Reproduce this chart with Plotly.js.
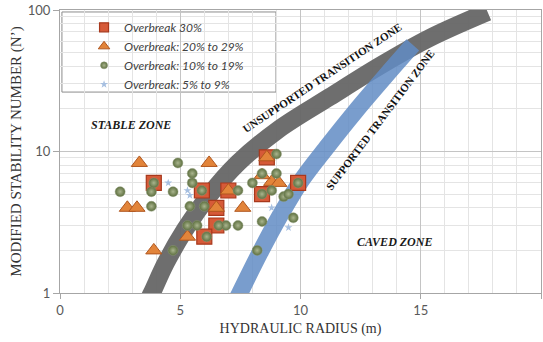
<!DOCTYPE html>
<html>
<head>
<meta charset="utf-8">
<script src="https://cdn.plot.ly/plotly-3.0.1.min.js"></script>
<style>html,body{margin:0;padding:0;background:#fff;}#chart{width:543px;height:342px;}</style>
</head>
<body>
<div id="chart"></div>
<script>
// Unsupported transition zone band (centreline)
const unsupHR = [3.57, 3.82, 4.40, 5.19, 6.15, 7.40, 9.06, 11.22, 13.29, 15.37, 17.78];
const unsupN  = [0.82, 1.00, 1.63, 2.79, 4.77, 8.29, 14.2, 24.3, 40.2, 63.4, 96.8];
// Supported transition zone band
const supHR = [7.23, 7.48, 8.31, 9.14, 10.05, 11.13, 12.26, 13.50, 14.67];
const supN  = [0.82, 1.00, 1.92, 3.50, 6.29, 10.94, 19.0, 33.6, 56.6];

// Overbreak 30%
const ob30HR = [3.9, 5.9, 7.0, 6.5, 6.5, 6.0, 8.6, 8.4, 9.9];
const ob30N  = [6.0, 5.3, 5.3, 4.0, 3.0, 2.5, 9.1, 5.0, 6.0];
// Overbreak 20% to 29%
const ob20HR = [3.3, 6.2, 2.8, 3.2, 7.6, 3.9, 5.3, 8.8, 9.1, 6.5, 7.0, 8.6, 8.4];
const ob20N  = [8.3, 8.3, 4.0, 4.0, 4.0, 2.0, 2.5, 6.1, 6.0, 4.0, 5.3, 9.1, 6.8];
// Overbreak 10% to 19%
const ob10HR = [2.5, 4.9, 5.5, 5.5, 4.7, 3.8, 3.8, 5.4, 6.0, 5.3, 5.7, 6.9, 7.4, 4.7, 6.1, 6.6, 5.9, 7.4, 8.0, 8.4, 9.0, 9.0, 8.8, 9.3, 9.5, 8.4, 9.7, 8.2, 3.9, 8.4, 9.9];
const ob10N  = [5.2, 8.3, 7.0, 6.0, 5.2, 5.2, 4.1, 4.1, 4.1, 3.0, 3.0, 3.0, 3.0, 2.0, 2.5, 3.0, 5.3, 5.3, 6.0, 7.0, 7.0, 9.6, 5.3, 4.8, 5.0, 3.2, 3.4, 2.0, 6.0, 5.0, 6.0];
// Overbreak 5% to 9%
const ob5HR = [4.5, 5.3, 5.4, 8.8, 9.5];
const ob5N  = [6.0, 5.3, 4.9, 4.0, 2.9];

const legendNames = ['Overbreak 30%', 'Overbreak: 20% to 29%', 'Overbreak: 10% to 19%', 'Overbreak: 5% to 9%'];

const sqStyle  = {symbol: 'square', color: '#d65a38', line: {color: '#a8381c', width: 1.2}};
const triStyle = {symbol: 'triangle-up', color: '#e2843a', line: {color: '#b0561e', width: 1}};
const cirStyle = {symbol: 'circle', color: '#5c6e3e', gradient: {type: 'radial', color: '#aab58e'}, line: {color: '#8e9a78', width: 0.5}};
const stStyle  = {symbol: 'star', color: '#a6bfe0', line: {width: 0}};

const traces = [
  {x: unsupHR, y: unsupN, mode: 'lines', line: {color: 'rgba(102,102,102,0.95)', width: 18, shape: 'spline', smoothing: 1}, showlegend: false, hoverinfo: 'skip'},
  {x: supHR, y: supN, mode: 'lines', line: {color: 'rgba(98,140,196,0.85)', width: 17, shape: 'spline', smoothing: 1}, showlegend: false, hoverinfo: 'skip'},
  {x: ob30HR, y: ob30N, mode: 'markers', showlegend: false, marker: Object.assign({size: 15}, sqStyle)},
  {x: ob20HR, y: ob20N, mode: 'markers', showlegend: false, marker: Object.assign({size: 14}, triStyle)},
  {x: ob10HR, y: ob10N, mode: 'markers', showlegend: false, marker: Object.assign({size: 10}, cirStyle)},
  {x: ob5HR, y: ob5N, mode: 'markers', showlegend: false, marker: Object.assign({size: 6}, stStyle)},
  // legend entries (smaller symbols, as in the original legend)
  {x: [null], y: [null], mode: 'markers', name: legendNames[0], legendgroup: 'a', marker: Object.assign({size: 9}, sqStyle)},
  {x: [null], y: [null], mode: 'markers', name: legendNames[1], legendgroup: 'b', marker: Object.assign({size: 10}, triStyle)},
  {x: [null], y: [null], mode: 'markers', name: legendNames[2], legendgroup: 'c', marker: Object.assign({size: 7}, cirStyle)},
  {x: [null], y: [null], mode: 'markers', name: legendNames[3], legendgroup: 'd', marker: Object.assign({size: 6}, stStyle)}
];

const serifBold = {family: 'Liberation Serif, Times New Roman, serif', size: 12, color: '#1a1a1a', weight: 'bold', style: 'italic'};
const bandFont = {family: 'Liberation Serif, Times New Roman, serif', size: 11, color: '#111', weight: 'bold'};

const layout = {
  width: 543, height: 342,
  margin: {l: 60, r: 2, t: 10, b: 49},
  paper_bgcolor: '#ffffff', plot_bgcolor: '#ffffff',
  font: {family: 'Lato, Liberation Sans, sans-serif', color: '#595959'},
  xaxis: {
    range: [0, 20], tick0: 0, dtick: 5, showgrid: true, gridcolor: '#c4c4c4', gridwidth: 1,
    minor: {dtick: 1, showgrid: true, gridcolor: '#e4e4e4', ticks: ''},
    zeroline: false, showline: true, linecolor: '#a6a6a6', mirror: true,
    ticks: 'outside', ticklen: 5, tickcolor: '#a6a6a6',
    tickfont: {family: 'Lato, Liberation Sans, sans-serif', size: 13, color: '#595959'},
    title: {text: 'HYDRAULIC RADIUS (m)', font: {family: 'Liberation Serif, Times New Roman, serif', size: 14, color: '#333333'}, standoff: 6},
    automargin: false
  },
  yaxis: {
    type: 'log', range: [0, 2], dtick: 1, showgrid: true, gridcolor: '#c4c4c4',
    minor: {dtick: 'D1', showgrid: true, gridcolor: '#e4e4e4', ticks: ''},
    zeroline: false, showline: true, linecolor: '#a6a6a6', mirror: true,
    ticks: 'outside', ticklen: 6, tickcolor: '#a6a6a6',
    tickfont: {family: 'Lato, Liberation Sans, sans-serif', size: 13, color: '#595959'},
    title: {text: 'MODIFIED STABILITY NUMBER (N’)', font: {family: 'Liberation Serif, Times New Roman, serif', size: 15, color: '#333333'}, standoff: 2},
    automargin: false
  },
  showlegend: true,
  legend: {
    x: 0.05, y: 0.99, xanchor: 'left', yanchor: 'top',
    bgcolor: 'rgba(0,0,0,0)', borderwidth: 0,
    font: {family: 'Lato, Liberation Sans, sans-serif', size: 12, color: '#404040', style: 'italic'},
    tracegroupgap: 0, itemwidth: 30
  },
  shapes: [
    {type: 'rect', xref: 'paper', yref: 'paper', x0: 0.004, x1: 0.449, y0: 0.71, y1: 0.993,
     line: {color: '#8c8c8c', width: 1}, fillcolor: '#ffffff', layer: 'below'}
  ],
  annotations: [
    {x: 2.95, y: Math.log10(15.4), xref: 'x', yref: 'y', text: 'STABLE ZONE', showarrow: false, font: serifBold},
    {x: 13.9, y: Math.log10(2.29), xref: 'x', yref: 'y', text: 'CAVED ZONE', showarrow: false, font: serifBold},
    {x: 10.88, y: Math.log10(33.1), xref: 'x', yref: 'y', text: '<b>UNSUPPORTED TRANSITION ZONE</b>', textangle: -33.6, showarrow: false, font: bandFont},
    {x: 13.3, y: Math.log10(16.7), xref: 'x', yref: 'y', text: '<b>SUPPORTED TRANSITION ZONE</b>', textangle: -53, showarrow: false, font: bandFont}
  ]
};

Plotly.newPlot('chart', traces, layout, {staticPlot: true, displayModeBar: false});
</script>
</body>
</html>
